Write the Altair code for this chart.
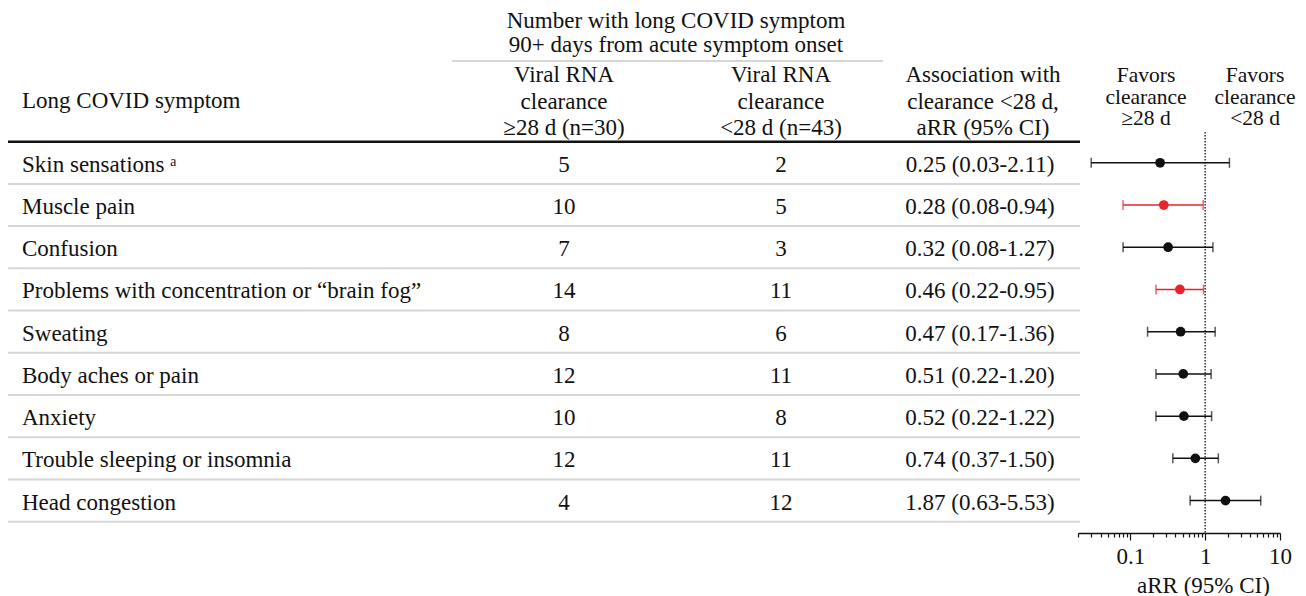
import altair as alt
import pandas as pd

# ---------------- data ----------------
symptoms = [
    "Skin sensations \u1d43",
    "Muscle pain",
    "Confusion",
    "Problems with concentration or \u201cbrain fog\u201d",
    "Sweating",
    "Body aches or pain",
    "Anxiety",
    "Trouble sleeping or insomnia",
    "Head congestion",
]
n_ge28 = [5, 10, 7, 14, 8, 12, 10, 12, 4]
n_lt28 = [2, 5, 3, 11, 6, 11, 8, 11, 12]
arr = [0.25, 0.28, 0.32, 0.46, 0.47, 0.51, 0.52, 0.74, 1.87]
ci_lo = [0.03, 0.08, 0.08, 0.22, 0.17, 0.22, 0.22, 0.37, 0.63]
ci_hi = [2.11, 0.94, 1.27, 0.95, 1.36, 1.20, 1.22, 1.50, 5.53]
tick_values = [0.02, 0.03, 0.04, 0.05, 0.06, 0.07, 0.08, 0.09,
               0.1, 0.2, 0.3, 0.4, 0.5, 0.6, 0.7, 0.8, 0.9,
               1, 2, 3, 4, 5, 6, 7, 8, 9, 10]
ref_value = [1]

df = pd.DataFrame({
    "row": list(range(len(symptoms))),
    "symptom": symptoms,
    "n1": n_ge28,
    "n2": n_lt28,
    "arr": arr,
    "lo": ci_lo,
    "hi": ci_hi,
})
df["arr_txt"] = [f"{a:.2f} ({l:.2f}-{h:.2f})" for a, l, h in zip(arr, ci_lo, ci_hi)]
df["sig"] = ["sig" if h < 1 else "ns" for h in ci_hi]

sep_df = pd.DataFrame({"pos": [r + 0.5 for r in range(len(symptoms))]})
top_df = pd.DataFrame({"pos": [-0.5]})
ref_df = pd.DataFrame({"ref": ref_value})

# ---------------- styling ----------------
FONT = "Liberation Serif"
FS = 23
TXT = "#111111"
W, H = 1290, 525

yscale = alt.Scale(domain=[-3.666, 8.768], reverse=True, nice=False, zero=False)
xscale = alt.Scale(type="log", domain=[0.02, 10], range=[1070, 1272], nice=False)
major = "datum.value == 0.1 || datum.value == 1 || datum.value == 10"
xaxis = alt.Axis(
    values=tick_values,
    labelExpr="datum.value == 0.1 ? '0.1' : datum.value == 1 ? '1' : datum.value == 10 ? '10' : ''",
    tickSize={"condition": {"test": major, "value": 7}, "value": 4},
    tickColor="#111111", tickWidth=1.2,
    domainColor="#111111", domainWidth=1.5,
    labelFont=FONT, labelFontSize=FS, labelColor=TXT, labelPadding=5.5,
    labelOverlap=False, labelFlush=False,
    grid=False,
    title="aRR (95% CI)", titleFont=FONT, titleFontSize=FS, titleFontWeight="normal",
    titleColor=TXT, titleX=1195, titleY=59, titleBaseline="alphabetic",
)
color = alt.Color("sig:N", scale=alt.Scale(domain=["ns", "sig"], range=["#111111", "#e8232a"]), legend=None)
Y = alt.Y("row:Q", scale=yscale, axis=None)

base = alt.Chart(df)

# table lines
thick = alt.Chart(top_df).mark_rule(color="#111111", strokeWidth=2.5).encode(
    y=alt.Y("pos:Q", scale=yscale, axis=None), x=alt.value(0), x2=alt.value(1072))
seps = alt.Chart(sep_df).mark_rule(color="#d6d6d6", strokeWidth=2).encode(
    y=alt.Y("pos:Q", scale=yscale, axis=None), x=alt.value(0), x2=alt.value(1072))
group_line = alt.Chart(top_df).mark_rule(color="#d6d6d6", strokeWidth=2).encode(
    y=alt.value(53), x=alt.value(444), x2=alt.value(875))

# row texts
txt_kw = dict(font=FONT, fontSize=FS, color=TXT, baseline="middle", dy=2)
sym_txt = base.mark_text(align="left", **txt_kw).encode(x=alt.value(14), y=Y, text="symptom:N")
n1_txt = base.mark_text(align="center", **txt_kw).encode(x=alt.value(556), y=Y, text="n1:Q")
n2_txt = base.mark_text(align="center", **txt_kw).encode(x=alt.value(773), y=Y, text="n2:Q")
arr_txt = base.mark_text(align="center", **txt_kw).encode(x=alt.value(972), y=Y, text="arr_txt:N")


def header(lines, x, y, align="center", lh=26.5, fs=FS):
    return alt.Chart(pd.DataFrame({"k": [0]})).mark_text(
        font=FONT, fontSize=fs, color=TXT, align=align, baseline="alphabetic", lineHeight=lh
    ).encode(x=alt.value(x), y=alt.value(y), text=alt.value(lines))


headers = [
    header(["Number with long COVID symptom", " 90+ days from acute symptom onset"], 668, 20, lh=24),
    header(["Viral RNA", "clearance", "\u226528 d (n=30)"], 556, 74),
    header(["Viral RNA", "clearance", "<28 d (n=43)"], 773, 74),
    header(["Association with", "clearance <28 d,", "aRR (95% CI)"], 975, 74),
    header(["Long COVID symptom"], 14, 100, align="left"),
    header(["Favors", "clearance", "\u226528 d"], 1138, 74, lh=21.5, fs=21.5),
    header(["Favors", "clearance", "<28 d"], 1247, 74, lh=21.5, fs=21.5),
]

# forest plot
ref_line = alt.Chart(ref_df).mark_rule(color="#222222", strokeWidth=1.4, strokeDash=[1.5, 1.5]).encode(
    x=alt.X("ref:Q", scale=xscale, axis=xaxis), y=alt.value(124), y2=alt.value(525))
ci_line = base.mark_rule(strokeWidth=1.5).encode(
    x=alt.X("lo:Q", scale=xscale, axis=xaxis), x2="hi:Q", y=Y, color=color)
cap_lo = base.mark_tick(orient="vertical", size=10, thickness=1.5).encode(
    x=alt.X("lo:Q", scale=xscale, axis=xaxis), y=Y, color=color)
cap_hi = base.mark_tick(orient="vertical", size=10, thickness=1.5).encode(
    x=alt.X("hi:Q", scale=xscale, axis=xaxis), y=Y, color=color)
pts = base.mark_circle(size=95, opacity=1).encode(
    x=alt.X("arr:Q", scale=xscale, axis=xaxis), y=Y, color=color)

chart = alt.layer(
    seps, thick, group_line, sym_txt, n1_txt, n2_txt, arr_txt, *headers,
    ref_line, ci_line, cap_lo, cap_hi, pts,
).properties(
    width=W, height=H,
    padding={"left": 0, "top": 0, "right": 0, "bottom": 63},
    autosize=alt.AutoSizeParams(type="none"),
).configure(font=FONT).configure_view(stroke=None)

chart.save("out.html", embed_options={"renderer": "svg", "actions": False})
